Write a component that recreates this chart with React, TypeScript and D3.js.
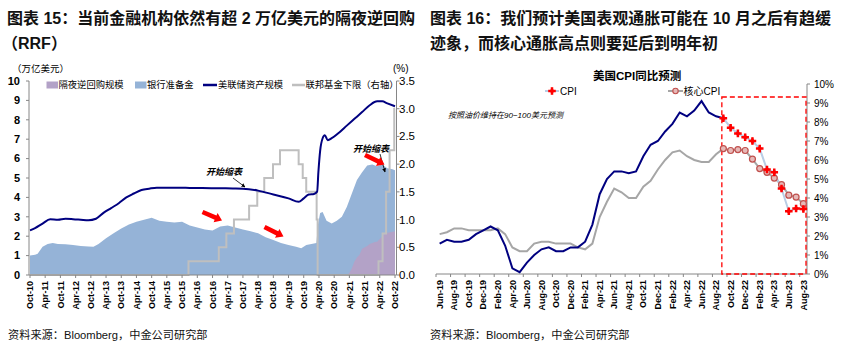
import React from 'react';
import * as d3 from 'd3';

const LATIN = '"Liberation Sans", Arial, "Noto Sans CJK SC", sans-serif';

// ---------------- Left chart data ----------------
const leftTickLabels = ['Oct-10','Apr-11','Oct-11','Apr-12','Oct-12','Apr-13','Oct-13','Apr-14','Oct-14','Apr-15','Oct-15','Apr-16','Oct-16','Apr-17','Oct-17','Apr-18','Oct-18','Apr-19','Oct-19','Apr-20','Oct-20','Apr-21','Oct-21','Apr-22','Oct-22'];
const leftYTicks = [0,1,2,3,4,5,6,7,8,9,10];
const rightYTicksL = [0,0.5,1,1.5,2,2.5,3,3.5];

const assetDates = ['2010-10','2010-12','2011-03','2011-06','2011-09','2011-12','2012-03','2012-06','2012-09','2012-12','2013-03','2013-06','2013-09','2013-12','2014-03','2014-06','2014-09','2014-12','2015-06','2016-01','2016-06','2017-01','2017-06','2017-10','2018-04','2018-10','2019-04','2019-08','2019-10','2019-12','2020-02','2020-03-10','2020-03-25','2020-04-15','2020-05-15','2020-06-10','2020-07-15','2020-09','2020-12','2021-03','2021-06','2021-09','2021-12','2022-03','2022-05','2022-07','2022-10'];
const assetValues = [2.3,2.42,2.65,2.87,2.85,2.9,2.88,2.85,2.82,2.9,3.2,3.45,3.7,4.0,4.2,4.38,4.45,4.5,4.5,4.49,4.48,4.47,4.46,4.45,4.35,4.15,3.95,3.77,3.95,4.15,4.18,4.3,5.3,6.4,7.05,7.2,6.95,7.05,7.35,7.7,8.05,8.4,8.75,8.95,8.95,8.85,8.7];

const reserveDates = ['2010-10','2010-12','2011-01','2011-03','2011-05','2011-07','2011-09','2011-12','2012-03','2012-06','2012-09','2012-11','2013-01','2013-04','2013-07','2013-10','2014-01','2014-04','2014-07','2014-10','2015-01','2015-04','2015-07','2015-10','2016-01','2016-04','2016-07','2016-10','2017-01','2017-04','2017-07','2017-10','2018-01','2018-04','2018-07','2018-10','2019-01','2019-04','2019-07','2019-09','2019-11','2020-01','2020-03-01','2020-03-20','2020-04-15','2020-05-15','2020-07','2020-09','2020-11','2021-01','2021-03','2021-05','2021-07','2021-09','2021-11','2022-01','2022-03','2022-05','2022-07','2022-09','2022-10'];
const reserveValues = [1.0,1.05,1.1,1.45,1.6,1.65,1.6,1.58,1.55,1.5,1.47,1.45,1.6,1.9,2.15,2.4,2.6,2.75,2.85,2.95,2.8,2.75,2.7,2.75,2.55,2.45,2.35,2.3,2.5,2.55,2.45,2.35,2.25,2.15,1.95,1.8,1.65,1.55,1.45,1.38,1.55,1.6,1.65,2.6,3.2,3.25,2.8,2.65,2.8,3.0,3.5,4.2,4.9,5.3,5.65,5.7,5.6,5.7,5.5,5.45,5.4];

const rrpDates = ['2010-10','2021-03','2021-04','2021-05','2021-06','2021-07','2021-08','2021-09','2021-11','2021-12','2022-02','2022-03','2022-04','2022-05','2022-06','2022-08','2022-10'];
const rrpValues = [0,0,0.1,0.35,0.7,0.9,1.05,1.35,1.5,1.6,1.7,1.72,1.85,2.0,2.15,2.2,2.25];

const ffDates = ['2010-10','2015-12-17','2016-12-15','2017-03-16','2017-06-15','2017-12-14','2018-03-22','2018-06-14','2018-09-27','2018-12-20','2019-08-01','2019-09-19','2019-10-31','2020-03-04','2020-03-16','2022-03-17','2022-05-05','2022-06-16','2022-07-28','2022-09-22','2022-10'];
const ffValues = [0,0.25,0.5,0.75,1.0,1.25,1.5,1.75,2.0,2.25,2.0,1.75,1.5,1.0,0,0.25,0.75,1.5,2.25,3.0,3.0];

// ---------------- Right chart data ----------------
const months = ['Jun-19','Jul-19','Aug-19','Sep-19','Oct-19','Nov-19','Dec-19','Jan-20','Feb-20','Mar-20','Apr-20','May-20','Jun-20','Jul-20','Aug-20','Sep-20','Oct-20','Nov-20','Dec-20','Jan-21','Feb-21','Mar-21','Apr-21','May-21','Jun-21','Jul-21','Aug-21','Sep-21','Oct-21','Nov-21','Dec-21','Jan-22','Feb-22','Mar-22','Apr-22','May-22','Jun-22','Jul-22','Aug-22','Sep-22','Oct-22','Nov-22','Dec-22','Jan-23','Feb-23','Mar-23','Apr-23','May-23','Jun-23','Jul-23','Aug-23'];
const cpiActual = [1.6,1.8,1.7,1.7,1.8,2.1,2.3,2.5,2.3,1.5,0.3,0.1,0.6,1.0,1.3,1.4,1.2,1.2,1.4,1.4,1.7,2.6,4.2,5.0,5.4,5.4,5.3,5.4,6.2,6.8,7.0,7.5,7.9,8.5,8.3,8.6,9.1,8.5,8.3,8.2];
const coreActual = [2.1,2.2,2.4,2.4,2.3,2.3,2.3,2.3,2.4,2.1,1.4,1.2,1.2,1.6,1.7,1.7,1.6,1.6,1.6,1.4,1.3,1.6,3.0,3.8,4.5,4.3,4.0,4.0,4.6,4.9,5.5,6.0,6.4,6.5,6.2,6.0,5.9,5.9,6.3,6.6];
const forecastMonths = ['Sep-22','Oct-22','Nov-22','Dec-22','Jan-23','Feb-23','Mar-23','Apr-23','May-23','Jun-23','Jul-23','Aug-23'];
const cpiForecast = [8.2,7.7,7.4,7.2,7.0,6.6,5.5,5.35,4.5,3.3,3.45,3.42];
const coreForecast = [6.6,6.5,6.55,6.5,6.05,5.55,5.35,5.05,4.7,4.15,4.05,3.7];
const rightYTicks = [0,1,2,3,4,5,6,7,8,9,10];

const pm = d3.timeParse('%Y-%m');
const pd = d3.timeParse('%Y-%m-%d');
const pl = d3.timeParse('%b-%y');
const parse = (s: string) => (s.length === 7 ? pm(s) : pd(s)) as Date;

function blockArrow(x1: number, y1: number, x2: number, y2: number, sw = 2.3, hw = 5, hl = 7) {
  const dx = x2 - x1, dy = y2 - y1, L = Math.hypot(dx, dy);
  const ux = dx / L, uy = dy / L, nx = -uy, ny = ux;
  const bx = x2 - ux * hl, by = y2 - uy * hl;
  const p = [
    [x1 + nx * sw, y1 + ny * sw], [bx + nx * sw, by + ny * sw], [bx + nx * hw, by + ny * hw],
    [x2, y2], [bx - nx * hw, by - ny * hw], [bx - nx * sw, by - ny * sw], [x1 - nx * sw, y1 - ny * sw],
  ];
  return p.map((q) => q.join(',')).join(' ');
}

export default function App() {
  // Left scales
  const xL = d3.scaleTime().domain([pm('2010-10') as Date, pm('2022-10') as Date]).range([30, 395]);
  const yL = d3.scaleLinear().domain([0, 10]).range([275, 81]);
  const yR = d3.scaleLinear().domain([0, 3.5]).range([275, 81]);

  const reserves = reserveDates.map((d, i) => ({ d: parse(d), v: reserveValues[i] }));
  const rrp = rrpDates.map((d, i) => ({ d: parse(d), v: rrpValues[i] }));
  const assets = assetDates.map((d, i) => ({ d: parse(d), v: assetValues[i] }));
  const ff = ffDates.map((d, i) => ({ d: parse(d), v: ffValues[i] }));

  const areaL = d3.area<{ d: Date; v: number }>().x((p) => xL(p.d)).y0(yL(0)).y1((p) => yL(p.v));
  const lineAssets = d3.line<{ d: Date; v: number }>().x((p) => xL(p.d)).y((p) => yL(p.v)).curve(d3.curveMonotoneX);
  const lineFF = d3.line<{ d: Date; v: number }>().x((p) => xL(p.d)).y((p) => yR(p.v)).curve(d3.curveStepAfter);

  // Right scales
  const xB = d3.scaleBand<string>().domain(months).range([436, 807]);
  const bw = xB.bandwidth();
  const cx = (m: string) => (xB(m) as number) + bw / 2;
  const yP = d3.scaleLinear().domain([0, 10]).range([274, 84]);
  const lineR = d3.line<[string, number]>().x((p) => cx(p[0])).y((p) => yP(p[1]));
  const cpiPts: [string, number][] = cpiActual.map((v, i) => [months[i], v]);
  const corePts: [string, number][] = coreActual.map((v, i) => [months[i], v]);
  const cpiF: [string, number][] = cpiForecast.map((v, i) => [forecastMonths[i], v]);
  const coreF: [string, number][] = coreForecast.map((v, i) => [forecastMonths[i], v]);
  const cross = d3.symbol().type(d3.symbolCross).size(32)() as string;
  const diamond = d3.symbol().type(d3.symbolDiamond).size(16)() as string;

  const rectX = cx('Sep-22') - 1.5;

  return (
    <svg width={850} height={349} style={{ position: 'absolute', left: 0, top: 0, background: '#fff' }}>
      <defs>
        <marker id="ah" viewBox="0 0 10 10" refX="9" refY="5" markerWidth="5" markerHeight="5" orient="auto">
          <path d="M0,0 L10,5 L0,10 z" fill="#000" />
        </marker>
      </defs>
      {/* Titles */}
      <g fontFamily={LATIN} fontWeight="bold" fontSize={16} fill="#111">
        <text x={7} y={24}>图表 15：当前金融机构依然有超 2 万亿美元的隔夜逆回购</text>
        <text x={2} y={49}>（RRF）</text>
        <text x={430} y={24}>图表 16：我们预计美国表观通胀可能在 10 月之后有趋缓</text>
        <text x={430} y={49}>迹象，而核心通胀高点则要延后到明年初</text>
      </g>

      {/* ---------- Left chart ---------- */}
      <g>
        <path d={areaL(reserves) as string} fill="#95b3d7" />
        <path d={areaL(rrp) as string} fill="#b3a2c7" />
        <path d={lineFF(ff) as string} fill="none" stroke="#bfbfbf" strokeWidth={2} />
        <path d={lineAssets(assets) as string} fill="none" stroke="#000080" strokeWidth={2} />

        {/* axes */}
        <line x1={29} x2={29} y1={81} y2={275} stroke="#868686" />
        <line x1={396.5} x2={396.5} y1={81} y2={275} stroke="#868686" />
        <line x1={29} x2={396.5} y1={275} y2={275} stroke="#868686" />
        {leftYTicks.map((t) => (
          <g key={'ly' + t}>
            <line x1={26} x2={29} y1={yL(t)} y2={yL(t)} stroke="#868686" />
            <text x={20} y={yL(t)} dy="0.35em" textAnchor="end" fontFamily={LATIN} fontWeight="bold" fontSize={11}>{t}</text>
          </g>
        ))}
        {rightYTicksL.map((t) => (
          <g key={'ry' + t}>
            <line x1={396.5} x2={399.5} y1={yR(t)} y2={yR(t)} stroke="#868686" />
            <text x={399} y={yR(t)} dy="0.35em" fontFamily={LATIN} fontSize={11.5}>{t.toFixed(1)}</text>
          </g>
        ))}
        {leftTickLabels.map((l) => {
          const x = xL(pl(l) as Date);
          return (
            <g key={l}>
              <line x1={x} x2={x} y1={275} y2={278} stroke="#868686" />
              <text transform={`translate(${x},281) rotate(-90)`} dy="0.35em" textAnchor="end" fontFamily={LATIN} fontWeight="bold" fontSize={9}>{l}</text>
            </g>
          );
        })}
        <text x={12} y={71.5} fontFamily={LATIN} fontSize={9.5}>（万亿美元）</text>
        <text x={393} y={72} fontFamily={LATIN} fontSize={10}>(%)</text>

        {/* legend */}
        <g fontFamily={LATIN} fontSize={9.3}>
          <rect x={46.5} y={81.5} width={11.5} height={7} fill="#b3a2c7" />
          <text x={58.5} y={85} dy="0.35em">隔夜逆回购规模</text>
          <rect x={135} y={81.5} width={11.5} height={7} fill="#95b3d7" />
          <text x={147} y={85} dy="0.35em">银行准备金</text>
          <line x1={203} x2={217} y1={85} y2={85} stroke="#000080" strokeWidth={2.5} />
          <text x={218} y={85} dy="0.35em">美联储资产规模</text>
          <line x1={292} x2={305} y1={85} y2={85} stroke="#bfbfbf" strokeWidth={2.5} />
          <text x={305.5} y={85} dy="0.35em">联邦基金下限（右轴）</text>
        </g>

        {/* annotations */}
        <g fontFamily={LATIN} fontStyle="italic" fontWeight="bold" fontSize={9}>
          <text x={206} y={175}>开始缩表</text>
          <text x={353} y={152}>开始缩表</text>
        </g>
        <line x1={233} x2={245} y1={178} y2={187} stroke="#000" strokeWidth={0.8} markerEnd="url(#ah)" />
        <line x1={380} x2={385} y1={154} y2={172} stroke="#000" strokeWidth={0.8} markerEnd="url(#ah)" />
        <polygon points={blockArrow(202.5, 212, 222, 220.5)} fill="#ff0000" />
        <polygon points={blockArrow(264.5, 227, 283.5, 236.5)} fill="#ff0000" />
        <polygon points={blockArrow(365, 155, 384.5, 164.5)} fill="#ff0000" />
      </g>

      {/* ---------- Right chart ---------- */}
      <g>
        <line x1={436} x2={807} y1={274} y2={274} stroke="#868686" />
        <line x1={807} x2={807} y1={84} y2={274} stroke="#868686" />
        {rightYTicks.map((t) => (
          <g key={'py' + t}>
            <line x1={807} x2={810} y1={yP(t)} y2={yP(t)} stroke="#868686" />
            <text x={814} y={yP(t)} dy="0.35em" fontFamily={LATIN} fontSize={10}>{t + '%'}</text>
          </g>
        ))}
        {months.map((m, i) => {
          const x0 = xB(m) as number;
          return i % 2 === 0 ? (
            <g key={m}>
              <line x1={x0} x2={x0} y1={274} y2={277} stroke="#868686" />
              <text transform={`translate(${cx(m)},280) rotate(-90)`} dy="0.35em" textAnchor="end" fontFamily={LATIN} fontWeight="bold" fontSize={9}>{m}</text>
            </g>
          ) : null;
        })}

        <rect x={rectX} y={97} width={806 - rectX} height={177} fill="none" stroke="#ff0000" strokeWidth={1.3} strokeDasharray="5,3" />

        <path d={lineR(corePts) as string} fill="none" stroke="#a6a6a6" strokeWidth={2} />
        <path d={lineR(cpiPts) as string} fill="none" stroke="#000080" strokeWidth={2} />
        <path d={lineR(coreF) as string} fill="none" stroke="#a6a6a6" strokeWidth={2} />
        <path d={lineR(cpiF) as string} fill="none" stroke="#b9cde5" strokeWidth={2} />
        {coreF.map((p) => (
          <circle key={'c' + p[0]} cx={cx(p[0])} cy={yP(p[1])} r={3} fill="#e6b9b8" stroke="#c0504d" strokeWidth={1.2} />
        ))}
        {cpiF.map((p) => (
          <g key={'x' + p[0]} transform={`translate(${cx(p[0])},${yP(p[1])})`} fill="#ff0000">
            <path d={cross} />
            <path d={diamond} />
          </g>
        ))}

        <text x={593} y={80} fontFamily={LATIN} fontSize={11.5} fontWeight="bold">美国CPI同比预测</text>
        <g fontFamily={LATIN} fontSize={10}>
          <line x1={545} x2={559} y1={91} y2={91} stroke="#b9cde5" strokeWidth={2} />
          <g transform="translate(552,91)" fill="#ff0000">
            <path d={cross} />
            <path d={diamond} />
          </g>
          <text x={560} y={91} dy="0.35em">CPI</text>
          <line x1={668} x2={683} y1={91} y2={91} stroke="#a6a6a6" strokeWidth={2} />
          <circle cx={675.5} cy={91} r={2.7} fill="#e6b9b8" stroke="#c0504d" strokeWidth={1.1} />
          <text x={683.5} y={91} dy="0.35em">核心CPI</text>
        </g>
        <text x={448} y={118} fontFamily={LATIN} fontSize={8} fontStyle="italic">按照油价维持在90−100美元预测</text>
      </g>

      {/* sources */}
      <g fontFamily={LATIN} fontSize={11.2} fill="#111">
        <text x={8} y={339}>资料来源：Bloomberg，中金公司研究部</text>
        <text x={430} y={339}>资料来源：Bloomberg，中金公司研究部</text>
      </g>
    </svg>
  );
}
